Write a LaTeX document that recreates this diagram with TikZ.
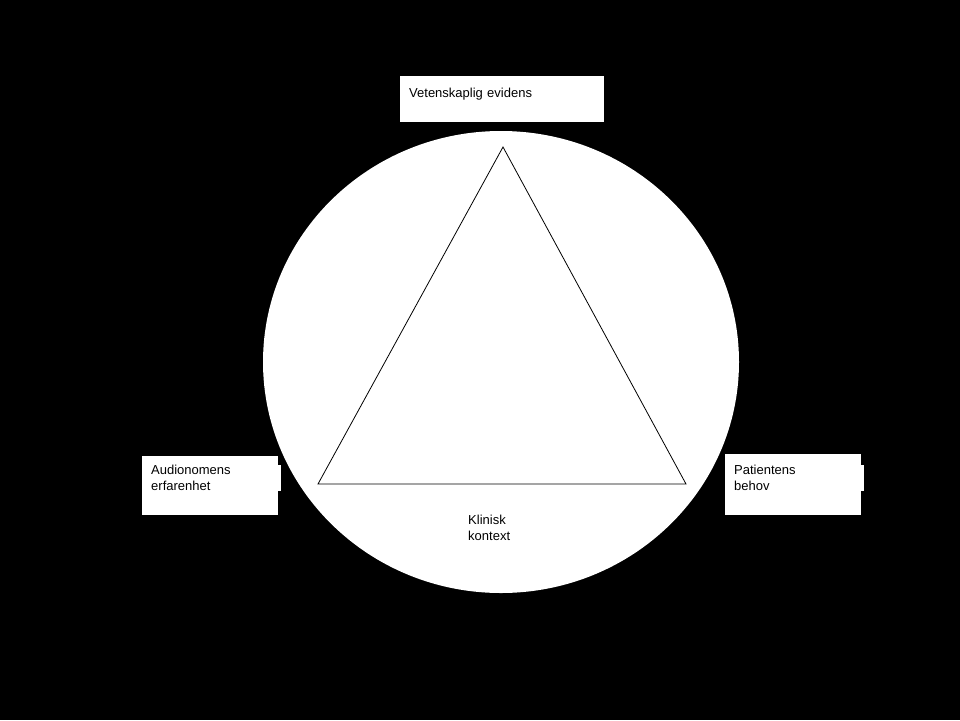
\documentclass[tikz,border=0pt]{standalone}
\usepackage{fontspec}
\setmainfont{Liberation Sans}
\begin{document}
\begin{tikzpicture}[x=1pt,y=-1pt,
  lbl/.style={fill=white,draw=none,align=left,font=\fontsize{13}{16}\selectfont,inner sep=0pt,text width=#1,anchor=north west},
  lbl/.default=100pt]
\fill[black] (0,0) rectangle (960,720);
\useasboundingbox (0,0) rectangle (960,720);
\fill[white] (501,362) ellipse [x radius=238, y radius=231];
\coordinate (A) at (503,147);
\coordinate (B) at (318,484);
\coordinate (C) at (686,484);
\draw[black,line width=0.8pt] (A) -- (B) -- (C) -- cycle;
\fill[white] (400,76) rectangle (604,122);
\node[lbl=190pt] (v) at (409,88) {Vetenskaplig evidens};
\fill[white] (142,456) rectangle (278,515);
\node[lbl=130pt] (a) at (151,465) {Audionomens\\erfarenhet};
\fill[white] (725,454) rectangle (861,515);
\node[lbl=130pt] (p) at (734,465) {Patientens\\behov};
\node[lbl=80pt] (k) at (468,515) {Klinisk\\kontext};
\end{tikzpicture}
\end{document}
